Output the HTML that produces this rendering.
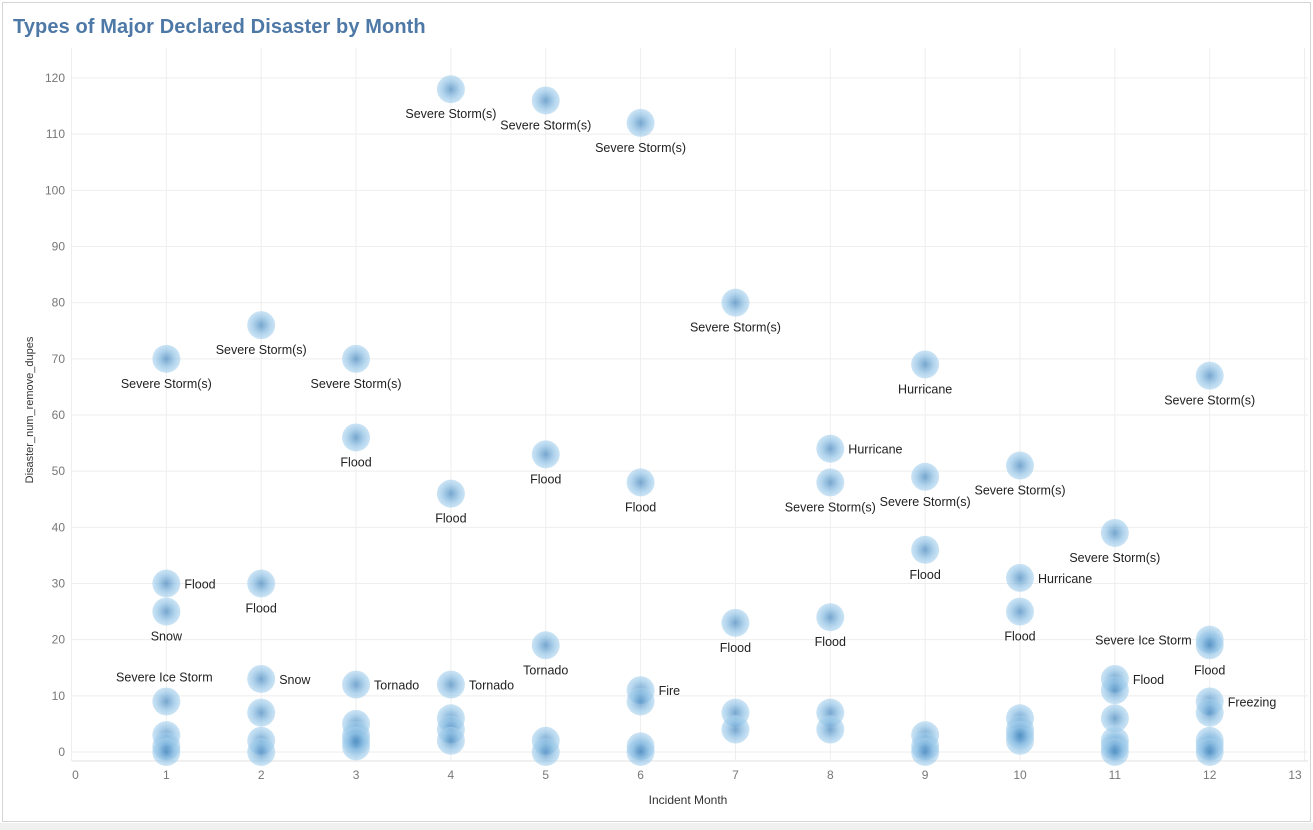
<!DOCTYPE html>
<html><head><meta charset="utf-8"><style>
html,body{margin:0;padding:0;background:#fff;}
#wrap{position:relative;width:1313px;height:830px;overflow:hidden;font-family:"Liberation Sans",sans-serif;}
#frame{position:absolute;left:2px;top:2px;width:1309px;height:820px;border:1px solid #d4d4d4;box-sizing:border-box;}
#foot{position:absolute;left:0;top:823px;width:1313px;height:7px;background:#f0f0f0;}
#title{position:absolute;left:13px;top:16px;font-size:20px;color:#4e79a7;font-weight:bold;letter-spacing:0.1px;}
</style></head><body>
<div id="wrap">
<div id="frame"></div>
<div id="foot"></div>
<div id="title">Types of Major Declared Disaster by Month</div>
<svg id="svg" width="1313" height="830" style="position:absolute;left:0;top:0">
<defs><radialGradient id="g">
<stop offset="0" stop-color="#3f82bb" stop-opacity="0.7"/>
<stop offset="0.6" stop-color="#8ec0e4" stop-opacity="0.7"/>
<stop offset="1" stop-color="#a9d2ee" stop-opacity="0.6"/>
</radialGradient></defs>
</svg>
</div>
<script>
const months=[4,5,6,7,1,2,3,9,12,3,5,6,8,4,8,9,10,11,9,10,1,2,1,10,5,7,8,12,12,1,2,3,4,11,11,6,6,12,12,
1,1,1,2,2,2,3,3,3,3,4,4,4,5,5,6,6,7,7,8,8,9,9,9,10,10,10,10,11,11,11,11,12,12,12];
const values=[118,116,112,80,70,76,70,69,67,56,53,48,54,46,48,49,51,39,36,31,30,30,25,25,19,23,24,20,19,9,13,12,12,13,11,11,9,9,7,
3,1,0,7,2,0,5,3,1,2,6,4,2,2,0,1,0,7,4,7,4,3,1,0,6,4,2,3,6,2,1,0,2,1,0];
const labels=["Severe Storm(s)","Severe Storm(s)","Severe Storm(s)","Severe Storm(s)","Severe Storm(s)","Severe Storm(s)","Severe Storm(s)","Hurricane","Severe Storm(s)","Flood","Flood","Flood","Hurricane","Flood","Severe Storm(s)","Severe Storm(s)","Severe Storm(s)","Severe Storm(s)","Flood","Hurricane","Flood","Flood","Snow","Flood","Tornado","Flood","Flood","Severe Ice Storm","Flood","Severe Ice Storm","Snow","Tornado","Tornado","Flood","","Fire","","Freezing",""];
const placement=["b","b","b","b","b","b","b","b","b","b","b","b","r","b","b","b","b","b","b","r","r","b","b","b","b","b","b","l","b","a","r","r","r","r","","r","","r",""];
const xTicks=[0,1,2,3,4,5,6,7,8,9,10,11,12,13];
const yTicks=[0,10,20,30,40,50,60,70,80,90,100,110,120];
const svg=document.getElementById('svg');const NS='http://www.w3.org/2000/svg';
const X0=71.5,DX=94.85,Y0=752,Y1=78,PT=48,PB=761;
const xs=v=>X0+DX*v, ys=v=>Y0-(Y0-Y1)*v/120;
function mk(t,a,txt){const e=document.createElementNS(NS,t);for(const k in a)e.setAttribute(k,a[k]);if(txt!=null)e.textContent=txt;svg.appendChild(e);return e;}
xTicks.forEach(t=>{const l=mk('line',{x1:xs(t),x2:xs(t),y1:PT,y2:PB,stroke:'#eeeeee'});


let lx=xs(t);if(t===0)lx+=4;if(t===13)lx=1295;
const tx=mk('text',{x:lx,y:779,'text-anchor':'middle','font-size':12,fill:'#777'},t);

});
yTicks.forEach(t=>{const l=mk('line',{x1:72,x2:1308,y1:ys(t),y2:ys(t),stroke:'#eeeeee'});


const tx=mk('text',{x:65,y:ys(t)+4,'text-anchor':'end','font-size':12,fill:'#777'},t);

});
const ax=mk('line',{x1:72,x2:1308,y1:PB,y2:PB,stroke:'#e2e2e2'});


const xt=mk('text',{x:688,y:804,'text-anchor':'middle','font-size':12,fill:'#333'},'Incident Month');


const yt=mk('text',{x:33,y:410,'text-anchor':'middle','font-size':11,fill:'#333',transform:'rotate(-90 33 410)'},'Disaster_num_remove_dupes');


months.forEach((m,i)=>{const c=mk('circle',{cx:xs(m),cy:ys(values[i]),r:14,fill:'url(#g)'});

});
months.forEach((m,i)=>{const lab=labels[i];if(!lab)return;const p=placement[i];const x=xs(m),y=ys(values[i]);
let a;if(p==='b')a={x:x,y:y+29,'text-anchor':'middle'};else if(p==='r')a={x:x+18,y:y+5,'text-anchor':'start'};
else if(p==='l')a={x:x-18,y:y+5,'text-anchor':'end'};else a={x:x-2,y:y-20,'text-anchor':'middle'};
a['font-size']=12.5;a.fill='#222';const t=mk('text',a,lab);

});
</script>
</body></html>
